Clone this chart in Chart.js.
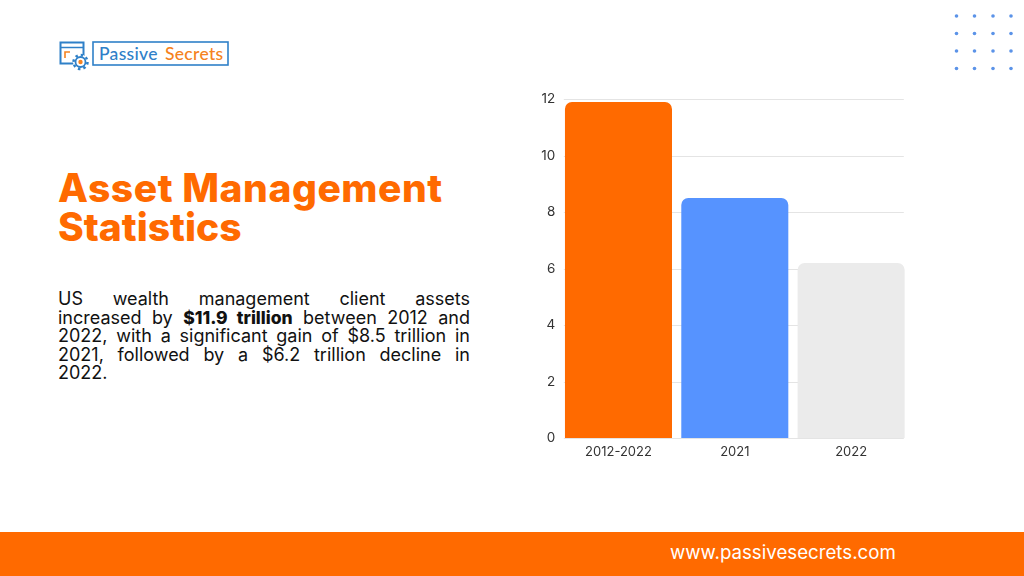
<!DOCTYPE html>
<html>
<head>
<meta charset="utf-8">
<script src="https://cdn.jsdelivr.net/npm/chart.js@4"></script>
<style>
  html, body { margin: 0; padding: 0; background: #fff; }
  body { width: 1024px; height: 576px; position: relative; overflow: hidden; font-family: Inter, sans-serif; }
  h1 {
    position: absolute; left: 58px; top: 168px; margin: 0;
    font-size: 39px; line-height: 39px; font-weight: 800; color: #ff6a00; white-space: nowrap;
  }
  h1 span { letter-spacing: 0.55px; }
  .para { position: absolute; left: 58px; top: 290px; width: 412px; font-size: 18px; line-height: 18.5px; color: #111; }
  .para div { text-align: justify; text-align-last: justify; white-space: nowrap; }
  .para div:last-child { text-align-last: left; }
  .para b { font-weight: 800; font-size: 17.5px; }
  .footer { position: absolute; left: 0; top: 532px; width: 1024px; height: 44px; background: #ff6a00; }
  .footer span { position: absolute; left: 670px; top: 10px; font-size: 18.7px; line-height: 22px; color: #fff; }
  #logo { position: absolute; left: 58px; top: 40px; }
  #dots { position: absolute; left: 950px; top: 10px; }
  .chartwrap { position: absolute; left: 530px; top: 86px; width: 390px; height: 380px; }
</style>
</head>
<body>
<svg id="logo" width="174" height="32" viewBox="0 0 174 32">
  <rect x="2.5" y="2.5" width="23" height="21" fill="#fff" stroke="#2f80c8" stroke-width="2"/>
  <line x1="2" y1="7.5" x2="26" y2="7.5" stroke="#2f80c8" stroke-width="1.5"/>
  <path d="M7 18 V12 H12" fill="none" stroke="#f58220" stroke-width="1.6"/>
  <circle cx="22.5" cy="22" r="7.5" fill="#fff"/>
  <circle cx="22.5" cy="22" r="7" fill="none" stroke="#2f80c8" stroke-width="2.5" stroke-dasharray="2.5 3"/>
  <circle cx="22.5" cy="22" r="5" fill="#fff" stroke="#2f80c8" stroke-width="1.8"/>
  <circle cx="22.5" cy="22" r="2.2" fill="#f58220"/>
  <rect x="35" y="2" width="135" height="23" fill="#fff" stroke="#2f80c8" stroke-width="1.6"/>
  <text x="41" y="19.5" font-family="Lato, sans-serif" font-size="17.5" font-weight="500" fill="#2f80c8" letter-spacing="0.3">Passive</text>
  <text x="107" y="19.5" font-family="Lato, sans-serif" font-size="17.5" font-weight="500" fill="#f58220" letter-spacing="0.3">Secrets</text>
</svg>
<svg id="dots" width="70" height="64" viewBox="0 0 70 64">
  <g fill="#5b93e8">
    <circle cx="6.5" cy="6" r="1.8"/><circle cx="24.5" cy="6" r="1.8"/><circle cx="43" cy="6" r="1.8"/><circle cx="61" cy="6" r="1.8"/>
    <circle cx="6.5" cy="23.5" r="1.8"/><circle cx="24.5" cy="23.5" r="1.8"/><circle cx="43" cy="23.5" r="1.8"/><circle cx="61" cy="23.5" r="1.8"/>
    <circle cx="6.5" cy="41" r="1.8"/><circle cx="24.5" cy="41" r="1.8"/><circle cx="43" cy="41" r="1.8"/><circle cx="61" cy="41" r="1.8"/>
    <circle cx="6.5" cy="58.5" r="1.8"/><circle cx="24.5" cy="58.5" r="1.8"/><circle cx="43" cy="58.5" r="1.8"/><circle cx="61" cy="58.5" r="1.8"/>
  </g>
</svg>
<h1><span>Asset Management</span><br>Statistics</h1>
<div class="para">
  <div>US wealth management client assets</div>
  <div>increased by <b>$11.9 trillion</b> between 2012 and</div>
  <div>2022, with a significant gain of $8.5 trillion in</div>
  <div>2021, followed by a $6.2 trillion decline in</div>
  <div>2022.</div>
</div>
<div class="chartwrap"><canvas id="assetChart"></canvas></div>
<div class="footer"><span>www.passivesecrets.com</span></div>
<script>
const categories = ["2012-2022", "2021", "2022"];
const assetValues = [11.9, 8.5, 6.2];
const barColors = ["#ff6a00", "#5693ff", "#ebebeb"];

// grid lines stop at the outer bar edges, the plot itself is a bit wider
const shortGrid = {
  id: "shortGrid",
  beforeDatasetsDraw(chart) {
    const { ctx, chartArea, scales } = chart;
    ctx.save();
    ctx.strokeStyle = "#e4e4e4";
    ctx.lineWidth = 1;
    scales.y.ticks.forEach((tick) => {
      const y = Math.round(scales.y.getPixelForValue(tick.value)) + 0.5;
      ctx.beginPath();
      ctx.moveTo(chartArea.left + 3.5, y);
      ctx.lineTo(chartArea.right - 5.5, y);
      ctx.stroke();
    });
    ctx.restore();
  }
};

new Chart(document.getElementById("assetChart"), {
  type: "bar",
  plugins: [shortGrid],
  data: {
    labels: categories,
    datasets: [{
      data: assetValues,
      backgroundColor: barColors,
      borderRadius: { topLeft: 7, topRight: 7 },
      borderSkipped: "bottom",
      categoryPercentage: 1,
      barPercentage: 0.92
    }]
  },
  options: {
    responsive: true,
    maintainAspectRatio: false,
    animation: false,
    layout: { padding: { top: 12, right: 10.7 } },
    plugins: { legend: { display: false }, tooltip: { enabled: false } },
    scales: {
      x: {
        afterFit: (axis) => { axis.height = 28; },
        grid: { display: false, drawTicks: false },
        border: { display: false },
        ticks: { color: "#333333", padding: 6, font: { family: "Inter", size: 13 } }
      },
      y: {
        min: 0,
        max: 12,
        afterFit: (axis) => { axis.width = 30.3; },
        grid: { display: false, drawTicks: false },
        border: { display: false },
        ticks: { stepSize: 2, color: "#333333", padding: 5, font: { family: "Inter", size: 13.5 } }
      }
    }
  }
});
</script>
</body>
</html>
